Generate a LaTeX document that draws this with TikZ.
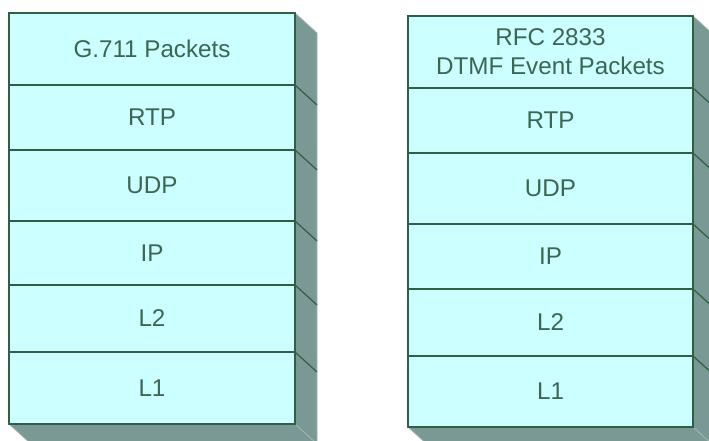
\documentclass[tikz,border=0pt]{standalone}
\usepackage{fontspec}
\setmainfont{Liberation Sans}

\definecolor{layerfill}{HTML}{CCFFFF}
\definecolor{sidefill}{HTML}{7A9994}
\definecolor{sideedge}{HTML}{9FB5B1}
\definecolor{edge}{HTML}{2F6046}
\definecolor{labeltext}{HTML}{3D6652}

\begin{document}
\begin{tikzpicture}[x=1pt,y=1pt,
  layer/.style={draw=edge, line width=1.7pt, fill=layerfill, text=labeltext,
    font=\fontsize{24.2}{29}\selectfont, align=center, inner sep=0pt,
    outer sep=0pt, anchor=north west},
  sideface/.style={fill=sidefill, draw=sideedge, line width=0.8pt, line join=round},
  seam/.style={draw=edge, line width=1.2pt}
]
\useasboundingbox (0,0) rectangle (709,441);
\clip (0,0) rectangle (709,441);

% ---------- left stack: G.711 ----------
\begin{scope}[every node/.append style={minimum width=286pt}]
  \node[layer, minimum height=72pt] (g711) at (9,428) {G.711 Packets};
  \node[layer, minimum height=65pt] (rtpA) at (g711.south west) {RTP};
  \node[layer, minimum height=71pt] (udpA) at (rtpA.south west) {UDP};
  \node[layer, minimum height=64pt] (ipA) at (udpA.south west) {IP};
  \node[layer, minimum height=67pt] (ltwoA) at (ipA.south west) {L2};
  \node[layer, minimum height=72pt] (loneA) at (ltwoA.south west) {L1};
\end{scope}

% ---------- right stack: RFC 2833 ----------
\begin{scope}[every node/.append style={minimum width=285pt}]
  \node[layer, minimum height=72pt] (rfc) at (408,425) {RFC 2833\\DTMF Event Packets};
  \node[layer, minimum height=65pt] (rtpB) at (rfc.south west) {RTP};
  \node[layer, minimum height=71pt] (udpB) at (rtpB.south west) {UDP};
  \node[layer, minimum height=65pt] (ipB) at (udpB.south west) {IP};
  \node[layer, minimum height=67pt] (ltwoB) at (ipB.south west) {L2};
  \node[layer, minimum height=71pt] (loneB) at (ltwoB.south west) {L1};
\end{scope}

% ---------- extruded side and bottom faces ----------
\foreach \top/\bot/\seams in {g711/loneA/{g711,rtpA,udpA,ipA,ltwoA},
                              rfc/loneB/{rfc,rtpB,udpB,ipB,ltwoB}}{
  \path[sideface] (\top.north east) -- ++(22,-20)
    -- ([shift={(22,-20)}]\bot.south east) -- (\bot.south east) -- cycle;
  \path[sideface] (\bot.south west) -- ++(22,-20)
    -- ([shift={(22,-20)}]\bot.south east) -- (\bot.south east) -- cycle;
  \foreach \n in \seams {
    \draw[seam] (\n.south east) -- ++(22,-20);
  }
  \draw[draw=edge, line width=1.7pt] (\top.north east) -- (\bot.south east) -- (\bot.south west);
}
\end{tikzpicture}
\end{document}
